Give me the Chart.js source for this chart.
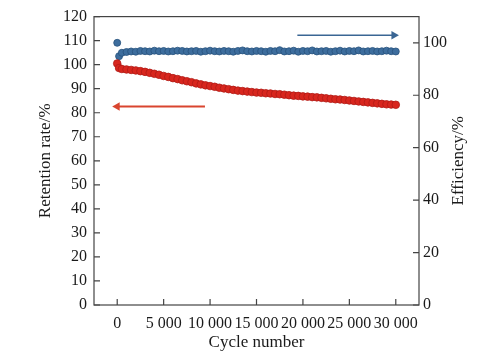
<!DOCTYPE html>
<html>
<head>
<meta charset="utf-8">
<script src="https://cdn.jsdelivr.net/npm/chart.js@4/dist/chart.umd.min.js"></script>
<style>
  html, body { margin: 0; padding: 0; background: #fff; }
  #wrap { width: 503px; height: 359px; }
</style>
</head>
<body>
<div id="wrap"><canvas id="c" width="503" height="359"></canvas></div>
<script>
// ---- data ----
const cycles = [0, 200, 500, 1000, 1500, 2000, 2500, 3000, 3500, 4000,
  4500, 5000, 5500, 6000, 6500, 7000, 7500, 8000, 8500, 9000,
  9500, 10000, 10500, 11000, 11500, 12000, 12500, 13000, 13500, 14000,
  14500, 15000, 15500, 16000, 16500, 17000, 17500, 18000, 18500, 19000,
  19500, 20000, 20500, 21000, 21500, 22000, 22500, 23000, 23500, 24000,
  24500, 25000, 25500, 26000, 26500, 27000, 27500, 28000, 28500, 29000,
  29500, 30000];
const retention = [100.5, 98.6, 98.2, 98.0, 97.8, 97.6, 97.3, 97.0, 96.6, 96.2,
  95.8, 95.3, 94.9, 94.4, 94.0, 93.5, 93.1, 92.7, 92.2, 91.8,
  91.4, 91.1, 90.8, 90.4, 90.1, 89.8, 89.5, 89.2, 89.0, 88.8,
  88.6, 88.4, 88.3, 88.1, 88.0, 87.8, 87.7, 87.5, 87.3, 87.1,
  87.0, 86.8, 86.7, 86.5, 86.4, 86.2, 86.0, 85.8, 85.6, 85.5,
  85.3, 85.1, 84.9, 84.7, 84.5, 84.3, 84.1, 83.9, 83.7, 83.5,
  83.4, 83.3];
const efficiency = [100.0, 94.9, 96.2, 96.5, 96.7, 96.6, 96.9, 96.8, 96.7, 97.0,
  96.8, 96.9, 96.7, 96.8, 97.0, 96.9, 96.7, 96.8, 96.9, 96.6,
  96.8, 97.0, 96.8, 96.7, 96.9, 96.8, 96.6, 96.9, 97.1, 96.8,
  96.7, 96.9, 96.8, 96.6, 96.9, 96.8, 97.2, 96.7, 96.8, 97.0,
  96.6, 96.9, 96.8, 97.1, 96.7, 96.8, 96.9, 96.6, 96.8, 97.0,
  96.7, 96.9, 96.8, 97.1, 96.7, 96.8, 96.9, 96.7, 96.8, 97.0,
  96.8, 96.7];
const xTicks = [0, 5000, 10000, 15000, 20000, 25000, 30000];
const leftTicksMax = 120;
const rightTicks = [0, 20, 40, 60, 80, 100];
// arrows (data units): tail -> head
const redArrowX = [9450, 0];
const redArrowY = [82.6, 82.6];
const blueArrowX = [19400, 29800];
const blueArrowY = [102.9, 102.9];

const FONT = "'Liberation Serif', 'Times New Roman', serif";
const TXT = '#1a1a1a';
const AX = '#444';

function fmt(v) {
  return String(v).replace(/\B(?=(\d{3})+(?!\d))/g, ' ');
}

const framePlugin = {
  id: 'frame',
  afterDatasetsDraw(chart) {
    const ctx = chart.ctx, a = chart.chartArea;
    ctx.save();
    ctx.strokeStyle = AX;
    ctx.lineWidth = 1.2;
    ctx.strokeRect(a.left, a.top, a.right - a.left, a.bottom - a.top);
    const L = 6;
    ctx.beginPath();
    const sx = chart.scales.x, sy = chart.scales.y, sy2 = chart.scales.y2;
    sx.ticks.forEach(t => { const p = sx.getPixelForValue(t.value); ctx.moveTo(p, a.bottom); ctx.lineTo(p, a.bottom - L); });
    sy.ticks.forEach(t => { const p = sy.getPixelForValue(t.value); ctx.moveTo(a.left, p); ctx.lineTo(a.left + L, p); });
    sy2.ticks.forEach(t => { const p = sy2.getPixelForValue(t.value); ctx.moveTo(a.right, p); ctx.lineTo(a.right - L, p); });
    ctx.stroke();
    // right axis title, reading bottom-to-top
    ctx.fillStyle = TXT;
    ctx.font = "17px " + FONT;
    ctx.textAlign = 'center';
    ctx.textBaseline = 'middle';
    ctx.translate(459, (a.top + a.bottom) / 2);
    ctx.rotate(-Math.PI / 2);
    ctx.fillText('Efficiency/%', 0, 0);
    ctx.restore();
  }
};

new Chart(document.getElementById('c'), {
  type: 'scatter',
  data: {
    datasets: [
      {
        label: 'Retention',
        data: cycles.map((c, i) => ({ x: c, y: retention[i] })),
        yAxisID: 'y',
        backgroundColor: '#d8261e',
        borderColor: '#b01a15',
        borderWidth: 0.8,
        pointRadius: 3.8,
        showLine: false
      },
      {
        label: 'Efficiency',
        data: cycles.map((c, i) => ({ x: c, y: efficiency[i] })),
        yAxisID: 'y2',
        backgroundColor: '#3d6d9d',
        borderColor: '#27527c',
        borderWidth: 0.8,
        pointRadius: 3.5,
        showLine: false
      },
      {
        label: 'redArrow',
        data: redArrowX.map((x, i) => ({ x: x, y: redArrowY[i] })),
        yAxisID: 'y',
        showLine: true,
        borderColor: '#d9452f',
        backgroundColor: '#d9452f',
        borderWidth: 2,
        pointStyle: 'triangle',
        pointRadius: [0, 5],
        rotation: [0, -90],
        pointBorderWidth: 0
      },
      {
        label: 'blueArrow',
        data: blueArrowX.map((x, i) => ({ x: x, y: blueArrowY[i] })),
        yAxisID: 'y2',
        showLine: true,
        borderColor: '#3a6694',
        backgroundColor: '#3a6694',
        borderWidth: 1.6,
        pointStyle: 'triangle',
        pointRadius: [0, 5],
        rotation: [0, 90],
        pointBorderWidth: 0
      }
    ]
  },
  options: {
    responsive: false,
    animation: false,
    layout: { padding: { top: 11, right: 0, left: 0, bottom: 0 } },
    plugins: { legend: { display: false }, tooltip: { enabled: false } },
    scales: {
      x: {
        type: 'linear',
        min: -2500, max: 32500,
        afterBuildTicks: s => { s.ticks = xTicks.map(v => ({ value: v })); },
        afterFit: s => { s.height = 54; },
        grid: { display: false, drawTicks: false },
        border: { display: false },
        ticks: { color: TXT, font: { family: FONT, size: 16 }, padding: 9, maxRotation: 0, autoSkip: false, callback: v => fmt(v) },
        title: { display: true, text: 'Cycle number', color: TXT, font: { family: FONT, size: 17 }, padding: 6 }
      },
      y: {
        position: 'left',
        min: 0, max: leftTicksMax,
        afterFit: s => { s.width = 94; },
        grid: { display: false, drawTicks: false },
        border: { display: false },
        ticks: { stepSize: 10, color: TXT, font: { family: FONT, size: 16 }, padding: 7 },
        title: { display: true, text: 'Retention rate/%', color: TXT, font: { family: FONT, size: 17 }, padding: 35 }
      },
      y2: {
        position: 'right',
        min: 0, max: 110,
        afterBuildTicks: s => { s.ticks = rightTicks.map(v => ({ value: v })); },
        afterFit: s => { s.width = 84; },
        grid: { display: false, drawTicks: false },
        border: { display: false },
        ticks: { color: TXT, font: { family: FONT, size: 16 }, padding: 4 }
      }
    }
  },
  plugins: [framePlugin]
});
</script>
</body>
</html>
